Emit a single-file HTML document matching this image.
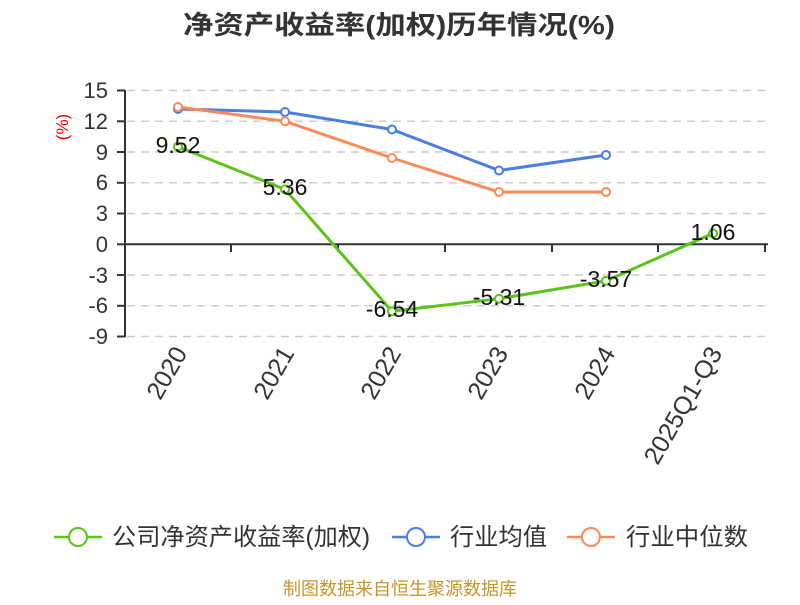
<!DOCTYPE html>
<html><head><meta charset="utf-8"><style>
body{margin:0;background:#fff;}
svg text{font-family:"Liberation Sans","Noto Sans CJK SC",sans-serif;}
</style></head><body>
<svg width="800" height="600" xmlns="http://www.w3.org/2000/svg">
<rect width="800" height="600" fill="#fff"/>
<text x="399" y="34" text-anchor="middle" font-size="26" font-weight="bold" fill="#333" textLength="432" lengthAdjust="spacingAndGlyphs">净资产收益率(加权)历年情况(%)</text>
<g stroke="#ccc" stroke-dasharray="8,6" stroke-width="1.5">
<line x1="127" y1="90.5" x2="768" y2="90.5"/>
<line x1="127" y1="121.3" x2="768" y2="121.3"/>
<line x1="127" y1="152" x2="768" y2="152"/>
<line x1="127" y1="182.8" x2="768" y2="182.8"/>
<line x1="127" y1="213.5" x2="768" y2="213.5"/>
<line x1="127" y1="275" x2="768" y2="275"/>
<line x1="127" y1="305.8" x2="768" y2="305.8"/>
<line x1="127" y1="336.5" x2="768" y2="336.5"/>
</g>
<g stroke="#333" stroke-width="2">
<line x1="125" y1="90" x2="125" y2="337"/>
<line x1="125" y1="244.3" x2="768" y2="244.3"/>
<line x1="117" y1="90.5" x2="125" y2="90.5"/><line x1="117" y1="121.3" x2="125" y2="121.3"/><line x1="117" y1="152" x2="125" y2="152"/><line x1="117" y1="182.8" x2="125" y2="182.8"/><line x1="117" y1="213.5" x2="125" y2="213.5"/><line x1="117" y1="244.3" x2="125" y2="244.3"/><line x1="117" y1="275" x2="125" y2="275"/><line x1="117" y1="305.8" x2="125" y2="305.8"/><line x1="117" y1="336.5" x2="125" y2="336.5"/>
<line x1="231" y1="244" x2="231" y2="252"/><line x1="338" y1="244" x2="338" y2="252"/><line x1="445" y1="244" x2="445" y2="252"/><line x1="552" y1="244" x2="552" y2="252"/><line x1="658" y1="244" x2="658" y2="252"/><line x1="765" y1="244" x2="765" y2="252"/>
</g>
<g font-size="22" fill="#333" text-anchor="end">
<text x="108" y="98">15</text><text x="108" y="129">12</text><text x="108" y="160">9</text><text x="108" y="190">6</text><text x="108" y="221">3</text><text x="108" y="252">0</text><text x="108" y="283">-3</text><text x="108" y="313">-6</text><text x="108" y="344">-9</text>
</g>
<text transform="translate(68,127) rotate(-90)" text-anchor="middle" font-size="17" fill="#e00">(%)</text>
<g font-size="25" fill="#333" text-anchor="end">
<text transform="translate(188,353) rotate(-60)">2020</text>
<text transform="translate(295,353) rotate(-60)">2021</text>
<text transform="translate(402,353) rotate(-60)">2022</text>
<text transform="translate(509,353) rotate(-60)">2023</text>
<text transform="translate(616,353) rotate(-60)">2024</text>
<text transform="translate(723,353) rotate(-60)">2025Q1-Q3</text>
</g>
<g fill="none" stroke-width="3">
<polyline stroke="#4a7ee0" points="178,109 285,112 392,129.5 499,170.5 606,155"/>
<polyline stroke="#fb8a5b" points="178,107 285,121.3 392,158 499,192 606,192"/>
<polyline stroke="#5cc31c" points="178,146.7 285,189.4 392,311.3 499,298.7 606,280.9 713,233.4"/>
</g>
<g fill="#fff" stroke-width="2">
<g stroke="#4a7ee0"><circle cx="178" cy="109" r="4"/><circle cx="285" cy="112" r="4"/><circle cx="392" cy="129.5" r="4"/><circle cx="499" cy="170.5" r="4"/><circle cx="606" cy="155" r="4"/></g>
<g stroke="#fb8a5b"><circle cx="178" cy="107" r="4"/><circle cx="285" cy="121.3" r="4"/><circle cx="392" cy="158" r="4"/><circle cx="499" cy="192" r="4"/><circle cx="606" cy="192" r="4"/></g>
<g stroke="#5cc31c"><circle cx="178" cy="146.7" r="4"/><circle cx="285" cy="189.4" r="4"/><circle cx="392" cy="311.3" r="4"/><circle cx="499" cy="298.7" r="4"/><circle cx="606" cy="280.9" r="4"/><circle cx="713" cy="233.4" r="4"/></g>
</g>
<g font-size="23" fill="#111" text-anchor="middle">
<text x="178" y="153">9.52</text><text x="285" y="195">5.36</text><text x="392" y="317">-6.54</text><text x="499" y="305">-5.31</text><text x="606" y="287">-3.57</text><text x="713" y="240">1.06</text>
</g>
<g font-size="24" fill="#333">
<line x1="54" y1="537" x2="102" y2="537" stroke="#5cc31c" stroke-width="2.5"/><circle cx="78" cy="537" r="9" fill="#fff" stroke="#5cc31c" stroke-width="2"/>
<text x="112" y="545" textLength="258" lengthAdjust="spacingAndGlyphs">公司净资产收益率(加权)</text>
<line x1="392" y1="537" x2="440" y2="537" stroke="#4a7ee0" stroke-width="2.5"/><circle cx="416" cy="537" r="9" fill="#fff" stroke="#4a7ee0" stroke-width="2"/>
<text x="450" y="545" textLength="97" lengthAdjust="spacingAndGlyphs">行业均值</text>
<line x1="567" y1="537" x2="615" y2="537" stroke="#fb8a5b" stroke-width="2.5"/><circle cx="591" cy="537" r="9" fill="#fff" stroke="#fb8a5b" stroke-width="2"/>
<text x="626" y="545" textLength="122" lengthAdjust="spacingAndGlyphs">行业中位数</text>
</g>
<text x="400" y="595" text-anchor="middle" font-size="18" fill="#c8962a">制图数据来自恒生聚源数据库</text>
</svg>
</body></html>
